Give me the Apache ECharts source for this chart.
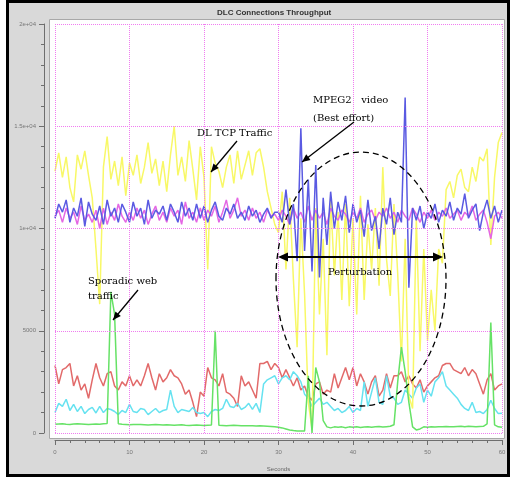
<!DOCTYPE html>
<html>
<head>
<meta charset="utf-8">
<script src="https://cdn.jsdelivr.net/npm/echarts@6/dist/echarts.min.js"></script>
<style>
  html, body { margin: 0; padding: 0; background: #fff; }
  #chart { width: 510px; height: 477px; }
</style>
</head>
<body>
<div id="chart"></div>
<script>
// time stamps (s)
const seconds = [
  0,0.5,1,1.5,2,2.5,3,3.5,4,4.5, 5,5.5,6,6.5,7,7.5,8,8.5,9,9.5,
  10,10.5,11,11.5,12,12.5,13,13.5,14,14.5, 15,15.5,16,16.5,17,17.5,18,18.5,19,19.5,
  20,20.5,21,21.5,22,22.5,23,23.5,24,24.5, 25,25.5,26,26.5,27,27.5,28,28.5,29,29.5,
  30,30.5,31,31.5,32,32.5,33,33.5,34,34.5, 35,35.5,36,36.5,37,37.5,38,38.5,39,39.5,
  40,40.5,41,41.5,42,42.5,43,43.5,44,44.5, 45,45.5,46,46.5,47,47.5,48,48.5,49,49.5,
  50,50.5,51,51.5,52,52.5,53,53.5,54,54.5, 55,55.5,56,56.5,57,57.5,58,58.5,59,59.5,
  60
];

// DL TCP traffic (yellow)
const tcpTraffic = [
  12800,13700,12500,13500,12000,11300,13600,12900,13800,12600,
  11500,9000,6300,13000,14500,12400,13300,12100,13500,11600,
  13200,12600,13600,12200,13000,14200,12700,13400,12100,13300,
  11800,13600,15000,12600,13500,12300,14300,12900,11400,14000,
  12500,8000,14000,13200,12800,12000,13000,13600,12200,13800,
  12400,13100,13800,12600,13700,13900,13000,11800,11000,10200,
  9800,11800,8000,11500,7500,4200,10500,6800,1500,200,
  11000,5800,9500,3800,11500,7700,10800,6500,11200,6200,
  10500,5800,11600,6500,10200,8000,11000,7200,13000,8500,
  6700,11200,7800,3500,9500,1800,1200,10500,4000,9000,
  4500,7000,5000,9000,8300,11900,12300,11500,12600,12900,
  12000,11800,13000,12300,13500,13300,13900,9200,12500,14200,
  14700
];

// video connection (magenta)
const videoMagenta = [
  10600,10900,10300,11000,10500,10800,10200,11100,10400,10700,
  10300,10900,10000,11000,10200,10800,10400,11200,10600,10300,
  10800,10400,11000,10500,10900,10200,10700,11100,10400,10800,
  10300,11000,10600,10900,10200,11300,10500,10800,10300,11000,
  10400,10900,10600,11100,10300,10800,11400,10500,10900,11500,
  10600,10900,10400,11000,10500,10800,10300,10900,10600,10700,
  10400,10900,10600,10200,11000,10500,10800,10300,11100,10400,
  10900,10500,10800,10200,11000,10600,10400,10900,10700,10300,
  10800,10500,11000,10300,10700,10900,10400,10800,10600,11000,
  10500,10800,10300,10900,10600,10400,11000,10700,10300,10800,
  10500,10900,10400,10800,10600,11000,10500,10700,10900,10400,
  10800,10600,11100,10400,10700,10900,10300,9500,10600,10800,
  10500
];

// MPEG2 video, best effort (blue)
const mpeg2Video = [
  10500,11200,10800,11400,10300,11000,10600,11500,10100,11300,
  10700,10400,11100,10200,11400,10600,11000,10300,11200,10800,
  10300,11300,10600,11000,10200,11400,10500,10900,10700,11100,
  10400,11200,10800,10300,11300,10600,11000,10400,11200,10500,
  11100,10300,10900,11300,10600,10400,11000,10700,11200,10500,
  10800,10400,11100,10600,10900,10300,10700,11000,10500,10800,
  10800,10300,11900,10200,11200,8400,14900,8900,12400,7900,
  13100,7600,11500,9200,11800,10000,11300,10400,11600,9800,
  11200,10300,10900,9600,11400,9900,10600,9000,11000,10200,
  11500,9700,10800,10300,16400,7100,11000,10400,11100,10000,
  10800,10500,11200,10300,10900,10600,11300,10400,11000,10700,
  11700,10500,10900,11200,9900,10800,11400,10500,11100,10300,
  10900
];

// red connection
const redConn = [
  3300,2400,3100,3200,3400,2300,2800,2100,2400,1700,
  2600,3400,2700,2300,2900,3000,2300,2100,2500,2300,
  2800,2300,2600,2300,2800,3400,2700,2100,2900,2500,
  2700,3100,2800,2700,2400,1900,2100,1500,800,2000,
  1800,3200,2700,2600,2300,2900,2000,1900,1700,1300,
  2800,2300,2500,2100,1700,3400,3400,3500,3100,3400,
  3200,2700,3100,2700,2300,2700,2100,2300,1800,1600,
  2400,2500,1900,2100,2000,2900,2200,2700,3200,2600,
  3200,2300,2900,2500,1900,2500,2800,1800,2100,2900,
  2200,2800,2800,3000,2500,2800,2400,2200,2600,2000,
  2300,2500,2700,2800,3300,3400,3400,3100,3000,2900,
  3200,2800,3100,2900,2400,1900,2600,2900,2100,2300,
  2400
];

// cyan connection
const cyanConn = [
  1000,1450,1300,1650,1100,1400,1050,1300,950,1150,
  1250,980,1300,1000,1200,1150,1050,900,1100,1000,
  1400,1050,1000,1200,1150,900,1050,1200,1000,1100,
  1150,2100,1300,1000,1150,1100,1050,1250,1000,950,
  1000,800,1050,1150,1100,1200,1650,1300,1250,1450,
  1150,1250,1450,1150,1450,1000,2400,2600,2700,2800,
  2400,2700,2800,2600,3000,2800,2500,1900,1700,1300,
  1500,1700,1400,1500,1300,1100,1200,1000,1100,1300,
  1000,1200,1100,2500,1300,2000,2700,1500,1400,2800,
  1800,1700,1400,1500,2100,1900,1700,2200,2400,1500,
  2100,1800,2500,2700,3000,2300,2100,1900,1700,1400,
  1200,1100,1500,1000,1050,950,1150,1600,1200,950,
  970
];

// sporadic web traffic (green)
const webTraffic = [
  430,440,450,430,420,440,450,440,430,420,
  430,440,430,450,460,6900,5800,450,430,420,
  400,410,420,410,400,390,400,410,400,390,
  400,390,380,390,400,380,370,380,390,380,
  370,380,390,5000,380,370,360,370,380,370,
  360,350,360,350,340,350,340,330,320,300,
  280,250,200,150,120,100,100,100,2800,0,
  3200,2500,600,300,250,300,280,300,260,300,
  280,300,270,290,310,280,300,320,290,310,
  330,400,2500,4200,3000,1500,300,150,200,300,
  280,300,290,310,300,320,310,300,320,330,
  310,330,320,300,320,330,450,5400,400,300,
  280
];

const xTicks = [0, 10, 20, 30, 40, 50, 60];
const yTicks = [0, 5000, 10000, 15000, 20000];
const yTickLabels = ['0', '5000', '1e+04', '1.5e+04', '2e+04'];

const chart = echarts.init(document.getElementById('chart'));

function pairs(vals) {
  return vals.map((v, i) => [seconds[i], v]);
}

function arrowHead(x0, y0, x1, y1, len, half) {
  const dx = x1 - x0, dy = y1 - y0;
  const d = Math.sqrt(dx * dx + dy * dy);
  const ux = dx / d, uy = dy / d;
  const bx = x1 - ux * len, by = y1 - uy * len;
  return [[x1, y1], [bx - uy * half, by + ux * half], [bx + uy * half, by - ux * half]];
}

function arrow(x0, y0, x1, y1, w, len, half) {
  return [
    { type: 'line', z: 100, shape: { x1: x0, y1: y0, x2: x1, y2: y1 }, style: { stroke: '#000', lineWidth: w } },
    { type: 'polygon', z: 100, shape: { points: arrowHead(x0, y0, x1, y1, len, half) }, style: { fill: '#000' } }
  ];
}

const serif = 'DejaVu Serif';
function label(text, x, y) {
  return { type: 'text', z: 100, x: x, y: y, style: { text: text, font: '10px "' + serif + '"', fill: '#000', verticalAlign: 'middle' } };
}

const colors = {
  red: '#e26a6a',
  cyan: '#66e2f0',
  yellow: '#f8f866',
  magenta: '#e466e4',
  blue: '#5a5ae2',
  green: '#66e266'
};

const lineSeries = [
  ['red', redConn],
  ['cyan', cyanConn],
  ['yellow', tcpTraffic],
  ['magenta', videoMagenta],
  ['blue', mpeg2Video],
  ['green', webTraffic]
].map(([c, vals]) => ({
  type: 'line',
  name: c,
  data: pairs(vals),
  showSymbol: false,
  symbol: 'none',
  animation: false,
  z: 3,
  lineStyle: { width: 1.5, color: colors[c] },
  itemStyle: { color: colors[c] }
}));

const axisGray = '#6e6e6e';

const option = {
  animation: false,
  backgroundColor: '#fff',
  title: {
    text: 'DLC Connections Throughput',
    left: 212, top: 4,
    textStyle: { fontSize: 8, fontWeight: 'bold', color: '#333', fontFamily: 'Liberation Sans' }
  },
  grid: { left: 55, right: 8, top: 24, bottom: 40 },
  xAxis: {
    type: 'value', min: 0, max: 60, interval: 10,
    offset: 7, z: 5,
    name: 'Seconds', nameLocation: 'middle', nameGap: 26,
    nameTextStyle: { fontSize: 6, color: '#666', fontFamily: 'Liberation Sans' },
    axisLine: { show: true, onZero: false, lineStyle: { color: axisGray, width: 1 } },
    axisTick: { show: true, length: 5, lineStyle: { color: axisGray, width: 1 } },
    minorTick: { show: true, splitNumber: 5, length: 3, lineStyle: { color: axisGray, width: 1 } },
    axisLabel: { fontSize: 6, color: '#777', margin: 9, fontFamily: 'Liberation Sans',
      formatter: v => xTicks.indexOf(v) >= 0 ? String(v) : '' },
    splitLine: { show: true, lineStyle: { color: '#f07cf0', type: 'dotted', width: 1 } }
  },
  yAxis: {
    type: 'value', min: 0, max: 20000, interval: 5000,
    offset: 11, z: 5,
    axisLine: { show: true, onZero: false, lineStyle: { color: axisGray, width: 1 } },
    axisTick: { show: true, length: 5, lineStyle: { color: axisGray, width: 1 } },
    minorTick: { show: true, splitNumber: 5, length: 3, lineStyle: { color: axisGray, width: 1 } },
    axisLabel: { fontSize: 6, color: '#777', margin: 8, fontFamily: 'Liberation Sans',
      formatter: v => yTickLabels[yTicks.indexOf(v)] },
    splitLine: { show: true, lineStyle: { color: '#f07cf0', type: 'dotted', width: 1 } }
  },
  graphic: [
    // outer gray panel with black frame
    { type: 'rect', z: -20, silent: true, shape: { x: 7.5, y: 1.5, width: 501, height: 474 },
      style: { fill: '#d9d9d9', stroke: '#000', lineWidth: 3 } },
    // white plot panel
    { type: 'rect', z: -10, silent: true, shape: { x: 49.5, y: 19.5, width: 455, height: 419 },
      style: { fill: '#fff', stroke: '#a8a8a8', lineWidth: 1 } },
    // perturbation ellipse
    { type: 'ellipse', z: 100, shape: { cx: 361, cy: 279, rx: 85, ry: 127 },
      style: { fill: 'none', stroke: '#000', lineWidth: 1.3, lineDash: [6, 4] } },
    ...arrow(237, 141, 211, 172, 1.3, 8, 3.5),
    ...arrow(354, 122, 302, 162, 1.3, 8, 3.5),
    ...arrow(138, 290, 113, 320, 1.3, 8, 3.5),
    { type: 'line', z: 100, shape: { x1: 284, y1: 257, x2: 437, y2: 257 }, style: { stroke: '#000', lineWidth: 2 } },
    { type: 'polygon', z: 100, shape: { points: arrowHead(360, 257, 278, 257, 10, 4.5) }, style: { fill: '#000' } },
    { type: 'polygon', z: 100, shape: { points: arrowHead(360, 257, 443, 257, 10, 4.5) }, style: { fill: '#000' } },
    label('DL TCP Traffic', 197, 133),
    label('MPEG2   video', 313, 100),
    label('(Best effort)', 313, 118),
    label('Sporadic web', 88, 281),
    label('traffic', 88, 296),
    label('Perturbation', 328, 272)
  ],
  series: lineSeries
};

chart.setOption(option);
</script>
</body>
</html>
